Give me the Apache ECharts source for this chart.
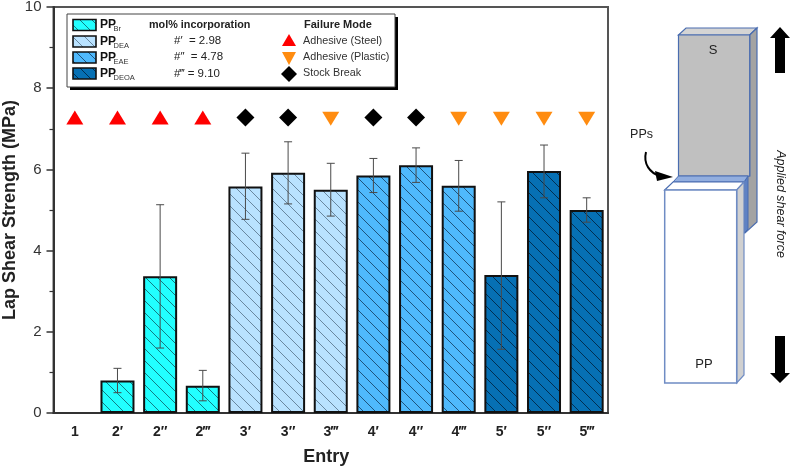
<!DOCTYPE html>
<html>
<head>
<meta charset="utf-8">
<style>html,body{margin:0;padding:0;background:#fff}#chart{width:791px;height:466px}</style>
<script src="https://cdn.jsdelivr.net/npm/echarts@6/dist/echarts.min.js"></script>
</head>
<body>
<div id="chart"></div>
<script>
// Lap shear strength by polymer entry
const entries = ['1', '2′', '2″', '2‴', '3′', '3″', '3‴', '4′', '4″', '4‴', '5′', '5″', '5‴'];
const shear = [null, 0.8, 3.37, 0.67, 5.58, 5.92, 5.5, 5.85, 6.1, 5.6, 3.4, 5.96, 5.0];
const errLow = [null, 0.5, 1.6, 0.3, 4.77, 5.15, 4.85, 5.43, 5.68, 4.97, 1.57, 5.3, 4.7];
const errHigh = [null, 1.1, 5.13, 1.05, 6.4, 6.68, 6.15, 6.27, 6.53, 6.22, 5.2, 6.6, 5.3];
const polymerOf = [0, 0, 0, 0, 1, 1, 1, 2, 2, 2, 3, 3, 3];
const polymerFill = ['#22FFFF', '#B9E2FF', '#4FB9FC', '#0670B4'];
const polymerHatch = ['rgba(10,70,80,0.7)', 'rgba(40,60,80,0.55)', 'rgba(10,40,70,0.7)', 'rgba(0,20,40,0.7)'];
const polymerNames = ['Br', 'DEA', 'EAE', 'DEOA'];

// Failure mode per entry, plotted on a fixed row above the bars
const modeRow = 7.28;
const adhesiveSteel = ['1', '2′', '2″', '2‴'];
const adhesivePlastic = ['3‴', '4‴', '5′', '5″', '5‴'];
const stockBreak = ['3′', '3″', '4′', '4″'];

const incorporation = ["#′  = 2.98", "#″  = 4.78", "#‴ = 9.10"];
const modeNames = ['Adhesive (Steel)', 'Adhesive (Plastic)', 'Stock Break'];

const RED = '#FF0000', ORANGE = '#FF8C10', BLACK = '#000000', LINE = '#333333';

// Diagonal hatch tile used by bars and legend swatches
function hatch(fill, stroke) {
  const T = 12, c = document.createElement('canvas');
  c.width = c.height = T;
  const g = c.getContext('2d');
  g.fillStyle = fill; g.fillRect(0, 0, T, T);
  g.strokeStyle = stroke; g.lineWidth = 1;
  g.beginPath();
  g.moveTo(-1, -1); g.lineTo(T + 1, T + 1);
  g.moveTo(-1, T - 1); g.lineTo(1, T + 1);
  g.moveTo(T - 1, -1); g.lineTo(T + 1, 1);
  g.stroke();
  return { image: c, repeat: 'repeat' };
}
const patterns = polymerFill.map((f, i) => hatch(f, polymerHatch[i]));

const barData = shear.map((v, i) => ({
  value: v,
  itemStyle: { color: patterns[polymerOf[i]], borderColor: '#111', borderWidth: 2 }
}));
const errData = entries.map((e, i) => [i, errLow[i], errHigh[i]]).filter(d => d[1] !== null);

function text(x, y, t, o) {
  return { type: 'text', z: 20, style: Object.assign({
    x, y, text: t, fill: '#222', font: '11px "Liberation Sans"', verticalAlign: 'middle'
  }, o || {}) };
}
function poly(points, fill, stroke, lw) {
  return { type: 'polygon', z: 12, shape: { points }, style: { fill, stroke: stroke || null, lineWidth: lw || 0 } };
}

// Legend panel
const legend = [
  { type: 'rect', z: 10, shape: { x: 70, y: 17, width: 328, height: 73 }, style: { fill: '#000' } },
  { type: 'rect', z: 11, shape: { x: 67, y: 14, width: 328, height: 73 }, style: { fill: '#fff', stroke: '#444', lineWidth: 1 } }
];
polymerNames.forEach((n, i) => {
  const y = [19.5, 36, 52, 68][i];
  legend.push({ type: 'rect', z: 12, shape: { x: 73, y, width: 23, height: 11 }, style: { fill: patterns[i], stroke: '#111', lineWidth: 1.6 } });
  legend.push(text(100, y + 5.5, 'PP', { font: 'bold 12px "Liberation Sans"', fill: '#111' }));
  legend.push(text(113.5, y + 9.5, n, { font: '7.5px "Liberation Sans"', fill: '#333' }));
});
legend.push(text(149, 25, 'mol% incorporation', { font: 'bold 10.8px "Liberation Sans"', fill: '#222' }));
incorporation.forEach((t, i) => legend.push(text(174, 41 + i * 16.2, t, { font: '11.5px "Liberation Sans"', fill: '#222' })));
legend.push(text(304, 25, 'Failure Mode', { font: 'bold 11px "Liberation Sans"', fill: '#222' }));
modeNames.forEach((t, i) => legend.push(text(303, 41 + i * 16.2, t, { font: '10.8px "Liberation Sans"', fill: '#333' })));
legend.push(poly([[289, 34], [296, 46], [282, 46]], RED));
legend.push(poly([[282, 52], [296, 52], [289, 65]], ORANGE));
legend.push(poly([[289, 66], [297, 74], [289, 82], [281, 74]], BLACK));

// Lap-joint specimen schematic
const EDGE = '#4A6DB0', EDGE2 = '#6F8CC4';
const schematic = [
  poly([[678.5, 35], [686, 28], [757, 28], [749.7, 35]], '#D4D4D4', EDGE, 1.2),
  poly([[749.7, 35], [757, 28], [757, 222], [745, 233], [745, 176], [749.7, 176]], '#A3A3A3', EDGE, 1.2),
  poly([[678.5, 35], [749.7, 35], [749.7, 176], [678.5, 176]], '#C0C0C0', EDGE, 1.2),
  poly([[744, 182], [748, 176], [748, 229], [744, 233]], '#5F82C4', EDGE, 1),
  poly([[673, 182], [678.5, 176], [748, 176], [744, 182]], '#92AEDF', EDGE, 1),
  poly([[664.7, 190], [673, 182], [744, 182], [736.7, 190]], '#FFFFFF', EDGE, 1.2),
  poly([[736.7, 190], [744, 182], [744, 375], [736.7, 383]], '#D0D0D0', EDGE2, 1.2),
  poly([[664.7, 190], [736.7, 190], [736.7, 383], [664.7, 383]], '#FFFFFF', EDGE2, 1.5),
  poly([[780, 27], [790, 38], [785, 38], [785, 73], [775, 73], [775, 38], [770, 38]], BLACK),
  poly([[775, 336], [785, 336], [785, 373], [790, 373], [780, 383], [770, 373], [775, 373]], BLACK),
  { type: 'bezierCurve', z: 12, shape: { x1: 646, y1: 152, x2: 660, y2: 176, cpx1: 643, cpy1: 164, cpx2: 650, cpy2: 173 },
    style: { stroke: BLACK, lineWidth: 2, fill: null } },
  poly([[673, 177], [655, 171], [657, 181]], BLACK),
  text(713, 50, 'S', { font: '13px "Liberation Sans"', align: 'center', fill: '#222' }),
  text(641.5, 135, 'PPs', { font: '12.5px "Liberation Sans"', align: 'center', fill: '#222' }),
  text(704, 364, 'PP', { font: '13px "Liberation Sans"', align: 'center', fill: '#222' }),
  { type: 'text', z: 20, x: 780, y: 204, rotation: -Math.PI / 2,
    style: { x: 0, y: 0, text: 'Applied shear force', font: 'italic 12.5px "Liberation Sans"', fill: '#222',
      align: 'center', verticalAlign: 'middle' } }
];

const chart = echarts.init(document.getElementById('chart'), null, { renderer: 'canvas' });
chart.setOption({
  animation: false,
  backgroundColor: '#fff',
  grid: { show: true, left: 53.5, right: 183, top: 7, bottom: 53, outerBoundsMode: 'none',
    borderColor: '#555', borderWidth: 2, backgroundColor: 'transparent' },
  xAxis: {
    type: 'category', data: entries,
    name: 'Entry', nameLocation: 'middle', nameGap: 35, nameMoveOverlap: false,
    nameTextStyle: { fontFamily: 'Liberation Sans', fontWeight: 'bold', fontSize: 18, color: '#222', padding: [0, 9, 0, 0] },
    axisLine: { lineStyle: { color: LINE, width: 2 } },
    axisTick: { alignWithLabel: true, length: 6, lineStyle: { color: LINE, width: 1.5 } },
    axisLabel: { fontFamily: 'Liberation Sans', fontWeight: 'bold', fontSize: 14, color: '#222', margin: 12 },
    splitLine: { show: false }
  },
  yAxis: {
    type: 'value', min: 0, max: 10, interval: 2,
    name: 'Lap Shear Strength (MPa)', nameLocation: 'middle', nameGap: 34, nameMoveOverlap: false,
    nameTextStyle: { fontFamily: 'Liberation Sans', fontWeight: 'bold', fontSize: 18, color: '#222' },
    axisLine: { show: true, onZero: false, lineStyle: { color: LINE, width: 2 } },
    axisTick: { show: true, length: 7, lineStyle: { color: LINE, width: 1.5 } },
    minorTick: { show: true, splitNumber: 2, length: 4, lineStyle: { color: LINE, width: 1.2 } },
    axisLabel: { fontFamily: 'Liberation Sans', fontSize: 15, color: '#333', margin: 12 },
    splitLine: { show: false }, minorSplitLine: { show: false }
  },
  series: [
    { type: 'bar', data: barData, barWidth: 34, z: 2 },
    {
      type: 'custom', z: 3, data: errData,
      renderItem(params, api) {
        const x = api.coord([api.value(0), 0])[0];
        const lo = api.coord([api.value(0), api.value(1)])[1];
        const hi = api.coord([api.value(0), api.value(2)])[1];
        const style = { stroke: '#4A4A4A', lineWidth: 1 };
        const seg = (x1, y1, x2, y2) => ({ type: 'line', shape: { x1, y1, x2, y2 }, style });
        return { type: 'group', children: [seg(x, lo, x, hi), seg(x - 4, hi, x + 4, hi), seg(x - 4, lo, x + 4, lo)] };
      }
    },
    { type: 'scatter', symbol: 'triangle', symbolSize: [17, 14], itemStyle: { color: RED, opacity: 1 }, z: 4,
      data: adhesiveSteel.map(e => [e, modeRow]) },
    { type: 'scatter', symbol: 'triangle', symbolRotate: 180, symbolSize: [17, 14], itemStyle: { color: ORANGE, opacity: 1 }, z: 4,
      data: adhesivePlastic.map(e => [e, modeRow - 0.03]) },
    { type: 'scatter', symbol: 'diamond', symbolSize: [18, 18], itemStyle: { color: BLACK, opacity: 1 }, z: 4,
      data: stockBreak.map(e => [e, modeRow]) }
  ],
  graphic: { elements: legend.concat(schematic) }
});
</script>
</body>
</html>
